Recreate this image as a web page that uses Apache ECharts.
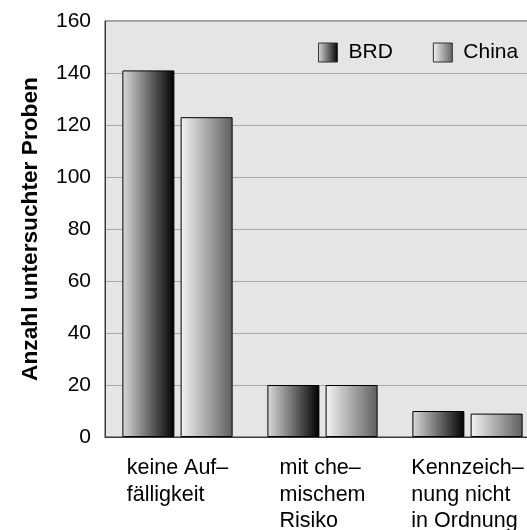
<!DOCTYPE html>
<html>
<head>
<meta charset="utf-8">
<script src="https://cdn.jsdelivr.net/npm/echarts@6/dist/echarts.min.js"></script>
<style>
  html, body { margin: 0; padding: 0; background: #ffffff; }
  #chart { width: 527px; height: 530px; }
</style>
</head>
<body>
<div id="chart"></div>
<script>
// Sample counts per finding category, Germany (BRD) vs. China
const categories = ['keine Auf–\nfälligkeit', 'mit che–\nmischem\nRisiko', 'Kennzeich–\nnung nicht\nin Ordnung'];
const seriesNames = ['BRD', 'China'];
const brdValues = [141, 20, 10];
const chinaValues = [123, 20, 9];
const yTicks = [0, 20, 40, 60, 80, 100, 120, 140, 160];

const FONT = '"Liberation Sans", Arial, Helvetica, sans-serif';

function hGradient(from, to) {
  return new echarts.graphic.LinearGradient(0, 0, 1, 0, [
    { offset: 0, color: from },
    { offset: 1, color: to }
  ]);
}

const chart = echarts.init(document.getElementById('chart'), null, { renderer: 'canvas' });

chart.setOption({
  animation: false,
  backgroundColor: '#ffffff',
  textStyle: { fontFamily: FONT },
  grid: {
    left: 105,
    top: 21,
    width: 435,
    height: 416,
    outerBoundsMode: 'none',
    containLabel: false,
    show: true,
    backgroundColor: '#e5e5e5',
    borderColor: '#3a3a3a',
    borderWidth: 1
  },
  legend: {
    data: seriesNames,
    orient: 'horizontal',
    left: 318,
    top: 42,
    width: 209,
    padding: 0,
    icon: 'rect',
    itemWidth: 19,
    itemHeight: 19,
    itemGap: 40,
    itemStyle: { borderColor: '#333', borderWidth: 1 },
    textStyle: { fontFamily: FONT, fontSize: 21, color: '#000', padding: [0, 0, 0, 6] }
  },
  xAxis: {
    type: 'category',
    data: categories,
    axisLine: { show: true, lineStyle: { color: '#3a3a3a', width: 1 } },
    axisTick: { show: false },
    splitLine: { show: false },
    axisLabel: {
      margin: 18,
      interval: 0,
      color: '#000',
      fontFamily: FONT,
      fontSize: 21.5,
      lineHeight: 26.5,
      formatter: function (v) {
        return v.split('\n').map(function (s) { return '{l|' + s + '}'; }).join('\n');
      },
      rich: {
        l: { align: 'left', fontFamily: FONT, fontSize: 21.5, lineHeight: 26.5, color: '#000' }
      }
    }
  },
  yAxis: {
    type: 'value',
    min: yTicks[0],
    max: yTicks[yTicks.length - 1],
    interval: yTicks[1] - yTicks[0],
    name: 'Anzahl untersuchter Proben',
    nameLocation: 'middle',
    nameGap: 63,
    nameTextStyle: { fontFamily: FONT, fontSize: 22.7, fontWeight: 'bold', color: '#000' },
    axisLine: { show: true, lineStyle: { color: '#3a3a3a', width: 1 } },
    axisTick: { show: false },
    axisLabel: { margin: 14, color: '#000', fontFamily: FONT, fontSize: 21 },
    splitLine: { show: true, lineStyle: { color: '#a8a8a8', width: 1 } }
  },
  series: [
    {
      name: seriesNames[0],
      type: 'bar',
      data: brdValues,
      barWidth: 52,
      barGap: '12%',
      itemStyle: {
        color: hGradient('#dadada', '#000000'),
        borderColor: '#000',
        borderWidth: 1
      }
    },
    {
      name: seriesNames[1],
      type: 'bar',
      data: chinaValues,
      barWidth: 52,
      barGap: '12%',
      itemStyle: {
        color: hGradient('#f4f4f4', '#5e5e5e'),
        borderColor: '#000',
        borderWidth: 1
      }
    }
  ]
});
</script>
</body>
</html>
